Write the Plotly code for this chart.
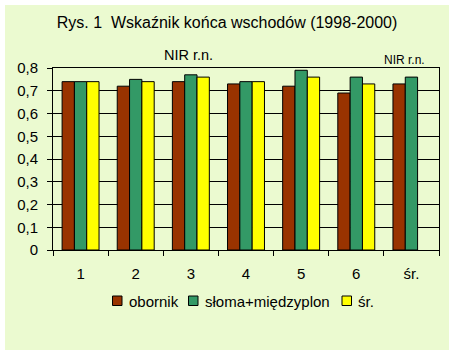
import plotly.graph_objects as go

categories = ["1", "2", "3", "4", "5", "6", "śr."]
obornik = [0.74, 0.72, 0.74, 0.73, 0.72, 0.69, 0.73]
sloma = [0.74, 0.75, 0.77, 0.74, 0.79, 0.76, 0.76]
sr = [0.74, 0.74, 0.76, 0.74, 0.76, 0.73, None]
series_names = ["obornik", "słoma+międzyplon", "śr."]
title_text = "Rys. 1\u00a0 Wskaźnik końca wschodów (1998-2000)"
nir_text = "NIR r.n."

W, H = 454, 355
ml, mr, mt, mb = 53, 15, 68, 105
pw, ph = W - ml - mr, H - mt - mb

colors = ["#993300", "#339966", "#FFFF00"]
bg = "#EBFAD0"
font = "Liberation Sans, Arial, sans-serif"


def px_x(p):
    return (p - ml) / pw


def px_y(p):
    return (H - mb - p) / ph


fig = go.Figure()
for name, vals, c in zip(series_names, [obornik, sloma, sr], colors):
    fig.add_trace(go.Bar(x=categories, y=vals, name=name, showlegend=False,
                         marker=dict(color=c, line=dict(color="black", width=1))))

# chart-area background
fig.add_shape(type="rect", xref="paper", yref="paper",
              x0=px_x(5), x1=px_x(449), y0=px_y(350), y1=px_y(5),
              fillcolor=bg, line=dict(width=0), layer="below")

# legend (drawn as key squares + text)
legend_sq_x = [112.5, 188.5, 342]
legend_tx_x = [126.5, 202.5, 356]
for name, c, sx, tx in zip(series_names, colors, legend_sq_x, legend_tx_x):
    fig.add_shape(type="rect", xref="paper", yref="paper",
                  x0=px_x(sx), x1=px_x(sx + 9.5), y0=px_y(305.5), y1=px_y(296),
                  fillcolor=c, line=dict(color="black", width=1))
    fig.add_annotation(text=name, xref="paper", yref="paper",
                       x=px_x(tx), y=px_y(301), xanchor="left", yanchor="middle",
                       showarrow=False,
                       font=dict(size=15, color="black", family=font))

fig.add_annotation(text=nir_text, xref="paper", yref="paper",
                   x=px_x(188), y=px_y(55), xanchor="center", yanchor="middle",
                   showarrow=False,
                   font=dict(size=14.5, color="black", family=font))
fig.add_annotation(text=nir_text, xref="paper", yref="paper",
                   x=px_x(404.5), y=px_y(60), xanchor="center", yanchor="middle",
                   showarrow=False,
                   font=dict(size=12, color="black", family=font))

fig.update_layout(
    width=W, height=H,
    margin=dict(l=ml, r=mr, t=mt, b=mb, pad=0),
    paper_bgcolor="white", plot_bgcolor=bg,
    separators=", ",
    barmode="group", bargap=0.33, bargroupgap=0,
    font=dict(family=font, size=15, color="black"),
    title=dict(text=title_text, x=227 / W, xref="container", xanchor="center",
               y=1 - 22 / H, yanchor="middle", yref="container",
               font=dict(size=16, family=font, color="black")),
    showlegend=False,
    xaxis=dict(type="category", showline=True, linecolor="black", linewidth=1,
               mirror=True, ticks="outside", ticklen=5, tickcolor="black",
               tickson="boundaries", showgrid=False,
               ticklabelstandoff=10, tickfont=dict(size=15)),
    yaxis=dict(range=[0, 0.8], dtick=0.1, showline=True, linecolor="black",
               linewidth=1, mirror=True, ticks="outside", ticklen=5,
               tickcolor="black", showgrid=True, gridcolor="black",
               gridwidth=1, zeroline=False, ticklabelstandoff=6,
               tickfont=dict(size=15)),
)

fig.write_html("out.html", config={"displayModeBar": False},
               post_script="document.body.style.margin='0px';")
